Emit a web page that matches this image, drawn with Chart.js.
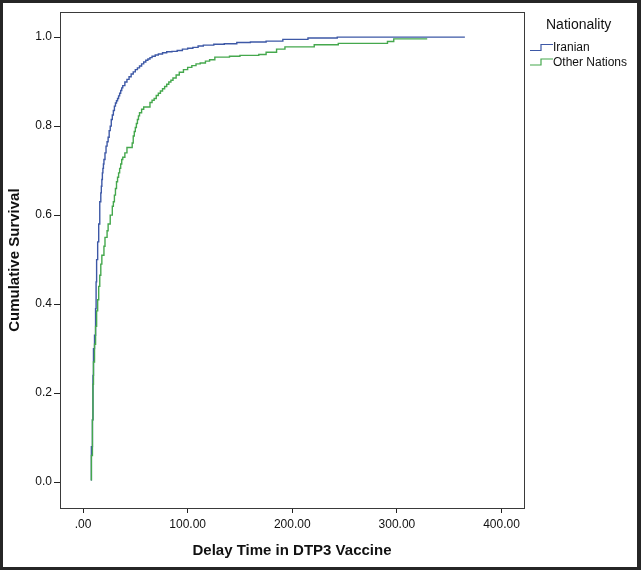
<!DOCTYPE html>
<html>
<head>
<meta charset="utf-8">
<script src="https://cdn.jsdelivr.net/npm/chart.js@4"></script>
<style>
  html, body { margin: 0; padding: 0; background: #262626; }
  #wrap { position: absolute; left: 3px; top: 3px; width: 634px; height: 564px; background: #fff; }
</style>
</head>
<body>
<div id="wrap"><canvas id="survChart" width="634" height="564"></canvas></div>
<script>
// delay time (days) and cumulative value after each step
const iranianDays = [8, 8, 9, 9.5, 10, 11, 12, 12.5, 13, 14, 15, 16, 17, 17.5, 18, 18.5, 19, 19.5, 20, 21, 22, 23, 24, 25, 26, 27, 28, 29, 30, 31, 32, 33, 34, 35, 36, 37, 38, 40, 42, 44, 46, 48, 50, 52, 54, 56, 58, 60, 62, 64, 66, 69, 72, 76, 80, 85, 90, 95, 100, 105, 110, 115, 125, 135, 147, 160, 175, 191, 215, 243, 365];
const iranianSurvival = [0.004, 0.08, 0.14, 0.24, 0.30, 0.33, 0.39, 0.45, 0.50, 0.54, 0.58, 0.63, 0.65, 0.665, 0.68, 0.695, 0.705, 0.715, 0.725, 0.74, 0.755, 0.765, 0.775, 0.79, 0.80, 0.815, 0.825, 0.835, 0.845, 0.852, 0.857, 0.862, 0.868, 0.874, 0.88, 0.886, 0.891, 0.899, 0.905, 0.911, 0.917, 0.922, 0.927, 0.931, 0.935, 0.94, 0.944, 0.948, 0.951, 0.954, 0.957, 0.96, 0.962, 0.965, 0.967, 0.968, 0.970, 0.973, 0.975, 0.977, 0.980, 0.982, 0.984, 0.985, 0.988, 0.989, 0.991, 0.995, 0.998, 1.0, 1.0];

const otherDays = [8, 8, 9, 9.5, 10, 11, 12, 13, 14, 15, 16, 17, 18, 20, 21, 23, 24, 26, 28, 29, 30, 31, 32, 33, 34, 35, 36, 37, 38, 40, 42, 47, 48, 49, 50, 51, 52, 53, 54, 56, 58, 64, 66, 68, 70, 72, 74, 76, 78, 80, 82, 84, 86, 89, 92, 96, 100, 104, 108, 112, 117, 121, 126, 140, 150, 168, 175, 185, 193, 221, 244, 291, 297, 329];
const otherSurvival = [0.004, 0.06, 0.14, 0.22, 0.27, 0.31, 0.35, 0.385, 0.41, 0.44, 0.465, 0.49, 0.51, 0.53, 0.55, 0.565, 0.58, 0.60, 0.62, 0.63, 0.645, 0.66, 0.675, 0.685, 0.695, 0.705, 0.715, 0.725, 0.73, 0.74, 0.752, 0.762, 0.778, 0.788, 0.797, 0.806, 0.815, 0.823, 0.83, 0.838, 0.843, 0.853, 0.858, 0.862, 0.869, 0.874, 0.879, 0.884, 0.889, 0.894, 0.899, 0.903, 0.908, 0.915, 0.921, 0.927, 0.932, 0.936, 0.94, 0.942, 0.946, 0.949, 0.955, 0.957, 0.959, 0.961, 0.966, 0.973, 0.978, 0.983, 0.986, 0.99, 0.996, 0.996];

const xTicks = [0, 100, 200, 300, 400];
const xTickLabels = ['.00', '100.00', '200.00', '300.00', '400.00'];
const yTicks = [0, 0.2, 0.4, 0.6, 0.8, 1.0];
const yTickLabels = ['0.0', '0.2', '0.4', '0.6', '0.8', '1.0'];

const legendTitle = 'Nationality';
const FONT = 'Liberation Sans, Arial, sans-serif';

const toPoints = (xs, ys) => xs.map((x, i) => ({ x: x, y: ys[i] }));

// box around the plot + SPSS style legend with step icons
const boxAndLegend = {
  id: 'boxAndLegend',
  afterDraw(chart) {
    const { ctx, chartArea: a } = chart;
    ctx.save();
    ctx.strokeStyle = '#3a3a3a';
    ctx.lineWidth = 1;
    ctx.strokeRect(Math.round(a.left) + 0.5, Math.round(a.top) + 0.5, Math.round(a.right - a.left), Math.round(a.bottom - a.top));

    ctx.fillStyle = '#111';
    ctx.textBaseline = 'middle';
    ctx.font = '14px ' + FONT;
    ctx.fillText(legendTitle, 543, 22);
    ctx.font = '12px ' + FONT;
    chart.data.datasets.forEach((ds, i) => {
      const y = 45 + i * 14.5;
      ctx.strokeStyle = ds.borderColor;
      ctx.lineWidth = 1.2;
      ctx.beginPath();
      ctx.moveTo(527, y + 2.5);
      ctx.lineTo(538, y + 2.5);
      ctx.lineTo(538, y - 3.5);
      ctx.lineTo(550, y - 3.5);
      ctx.stroke();
      ctx.fillStyle = '#111';
      ctx.fillText(ds.label, 550, y);
    });
    ctx.restore();
  }
};

new Chart(document.getElementById('survChart'), {
  type: 'line',
  data: {
    datasets: [{
      label: 'Iranian',
      data: toPoints(iranianDays, iranianSurvival),
      borderColor: '#3d58a6',
      borderWidth: 1.4,
      stepped: 'before',
      pointRadius: 0,
      fill: false,
      order: 1
    }, {
      label: 'Other Nations',
      data: toPoints(otherDays, otherSurvival),
      borderColor: '#45a84d',
      borderWidth: 1.4,
      stepped: 'before',
      pointRadius: 0,
      fill: false,
      order: 0
    }]
  },
  options: {
    responsive: false,
    animation: false,
    layout: { padding: { left: 0, top: 6, right: 113, bottom: 0 } },
    plugins: { legend: { display: false }, tooltip: { enabled: false } },
    scales: {
      x: {
        type: 'linear',
        min: -22,
        max: 421.5,
        afterBuildTicks: (s) => { s.ticks = xTicks.map(v => ({ value: v })); },
        afterFit: (s) => { s.height = 59; },
        ticks: {
          color: '#111',
          padding: 4,
          maxRotation: 0,
          font: { size: 12, family: FONT },
          callback: (v, i) => xTickLabels[i]
        },
        grid: { drawOnChartArea: false, tickLength: 5, color: '#222' },
        border: { display: true, color: '#3a3a3a' },
        title: {
          display: true,
          text: 'Delay Time in DTP3 Vaccine',
          color: '#111',
          font: { size: 15, weight: 'bold', family: FONT },
          padding: { top: 0, bottom: 7 }
        }
      },
      y: {
        type: 'linear',
        min: -0.058,
        max: 1.056,
        afterBuildTicks: (s) => { s.ticks = yTicks.map(v => ({ value: v })); },
        afterFit: (s) => { s.width = 57; },
        ticks: {
          color: '#111',
          padding: 2,
          font: { size: 12, family: FONT },
          callback: (v, i) => yTickLabels[i]
        },
        grid: { drawOnChartArea: false, tickLength: 6, color: '#222' },
        border: { display: true, color: '#3a3a3a' },
        title: {
          display: true,
          text: 'Cumulative Survival',
          color: '#111',
          font: { size: 15, weight: 'bold', family: FONT },
          padding: { top: 3, bottom: 0 }
        }
      }
    }
  },
  plugins: [boxAndLegend]
});
</script>
</body>
</html>
